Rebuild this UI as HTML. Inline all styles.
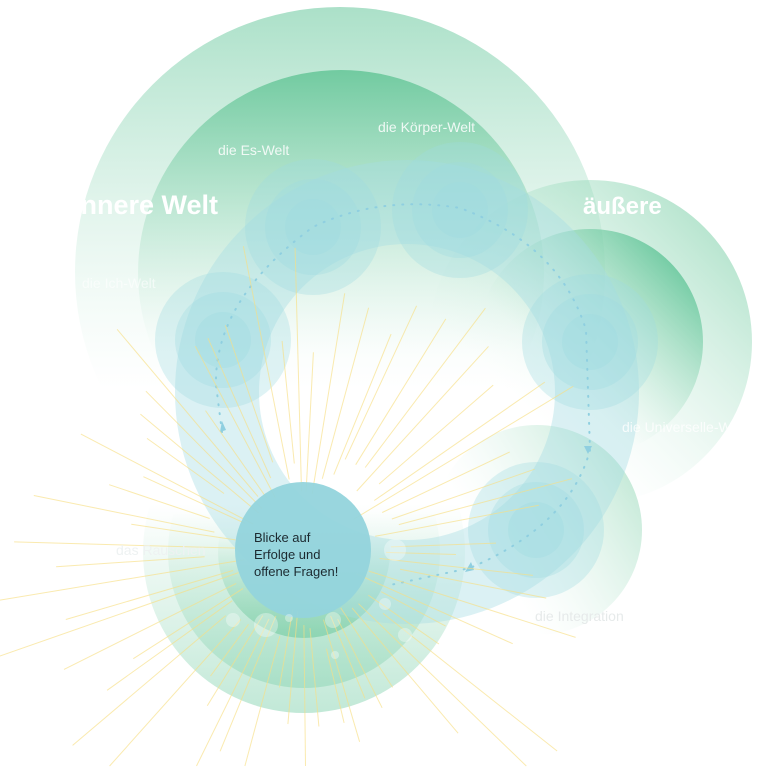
<!DOCTYPE html>
<html><head><meta charset="utf-8"><style>
html,body{margin:0;padding:0;background:#fff;width:768px;height:768px;overflow:hidden}
svg{display:block}
text{font-family:"Liberation Sans",sans-serif}
</style></head><body>
<svg id="s" width="768" height="768" viewBox="0 0 768 768" xmlns="http://www.w3.org/2000/svg">
<defs>
<linearGradient id="gTop" x1="0" y1="0" x2="0" y2="1">
<stop offset="0" stop-color="#8fd6b6" stop-opacity="0.75"/>
<stop offset="0.72" stop-color="#c8ecdc" stop-opacity="0"/>
</linearGradient>
<linearGradient id="gTop2" x1="0" y1="0" x2="0" y2="1">
<stop offset="0" stop-color="#5ec393" stop-opacity="0.8"/>
<stop offset="0.7" stop-color="#bfe8d4" stop-opacity="0"/>
</linearGradient>
<linearGradient id="gTR" x1="1" y1="0" x2="0" y2="1">
<stop offset="0" stop-color="#6cc99c" stop-opacity="0.7"/>
<stop offset="0.7" stop-color="#cdeee0" stop-opacity="0"/>
</linearGradient>
<linearGradient id="gTR2" x1="1" y1="0.1" x2="0.1" y2="1">
<stop offset="0" stop-color="#3fb882" stop-opacity="0.85"/>
<stop offset="0.65" stop-color="#bfe8d4" stop-opacity="0"/>
</linearGradient>
<linearGradient id="gBot" x1="0" y1="0" x2="0" y2="1">
<stop offset="0.35" stop-color="#8fd6b6" stop-opacity="0"/>
<stop offset="1" stop-color="#8fd6b6" stop-opacity="0.55"/>
</linearGradient>
<linearGradient id="gBot2" x1="0" y1="0" x2="0" y2="1">
<stop offset="0.4" stop-color="#6fc99e" stop-opacity="0"/>
<stop offset="1" stop-color="#6fc99e" stop-opacity="0.6"/>
</linearGradient>
<linearGradient id="gInt" x1="1" y1="0" x2="0" y2="0.6">
<stop offset="0" stop-color="#7ecfa7" stop-opacity="0.6"/>
<stop offset="0.8" stop-color="#cdeee0" stop-opacity="0"/>
</linearGradient>
</defs>
<circle cx="340" cy="272" r="265" fill="url(#gTop)"/>
<circle cx="341" cy="273" r="203" fill="url(#gTop2)"/>
<circle cx="590" cy="342" r="162" fill="url(#gTR)"/>
<circle cx="590" cy="342" r="113" fill="url(#gTR2)"/>
<circle cx="537" cy="530" r="105" fill="url(#gInt)"/>
<circle cx="304" cy="552" r="161" fill="url(#gBot)"/>
<circle cx="304" cy="552" r="136" fill="url(#gBot)"/>
<circle cx="304" cy="552" r="86" fill="url(#gBot2)"/>
<circle cx="407" cy="392" r="190" fill="none" stroke="#a6dbe3" stroke-opacity="0.4" stroke-width="84"/>
<g id="nodes"></g>
<path d="M222 432 L216 385 Q214 300 313 227 Q380 195 460 208 Q560 245 586 330 L590 450 Q570 525 470 568 L390 585" fill="none" stroke="#8fcfe0" stroke-width="2" stroke-dasharray="1 8" stroke-linecap="round"/>
<path d="M220 432 l6 -2 l-4 -9z" fill="#8fcfe0"/>
<path d="M584 446 l8 0 l-4 8z" fill="#8fcfe0"/>
<path d="M465 572 l9 -2 l-3 -8z" fill="#8fcfe0"/>
<g id="rays" stroke="#f7df84" stroke-width="1" stroke-opacity="0.65"></g>
<circle cx="303" cy="550" r="68" fill="#93d4dc" opacity="0.95"/>
<g fill="#fff" opacity="0.35">
<circle cx="395" cy="550" r="11"/><circle cx="385" cy="604" r="6"/><circle cx="333" cy="620" r="8"/><circle cx="266" cy="625" r="12"/><circle cx="233" cy="620" r="7"/><circle cx="405" cy="635" r="7"/><circle cx="335" cy="655" r="4"/><circle cx="289" cy="618" r="4"/>
</g>
<text x="254" y="542" font-size="13" fill="#1c2a30">Blicke auf</text>
<text x="254" y="559" font-size="13" fill="#1c2a30">Erfolge und</text>
<text x="254" y="576" font-size="13" fill="#1c2a30">offene Fragen!</text>
<text x="218" y="214" font-size="27" font-weight="bold" fill="#fff" text-anchor="end">Innere Welt</text>
<text x="583" y="214" font-size="24" font-weight="bold" fill="#fff">äußere<tspan fill-opacity="0"> Welt</tspan></text>
<text x="378" y="132" font-size="14" fill="#fff" opacity="0.85">die Körper-Welt</text>
<text x="218" y="155" font-size="14" fill="#fff" opacity="0.85">die Es-Welt</text>
<text x="82" y="288" font-size="14" fill="#fff" opacity="0.6">die Ich-Welt</text>
<text x="622" y="432" font-size="14" fill="#fff" opacity="0.8">die Universelle-Welt</text>
<text x="116" y="555" font-size="14" fill="#eef2f2">das Rauschen</text>
<text x="535" y="621" font-size="14" fill="#e6eaea">die Integration</text>
</svg>
<script>
var ns="http://www.w3.org/2000/svg";
var nodes=[[313,227],[460,210],[223,340],[590,342],[536,530]];
var g=document.getElementById('nodes');
nodes.forEach(function(n){[68,48,28].forEach(function(r){var c=document.createElementNS(ns,'circle');c.setAttribute('cx',n[0]);c.setAttribute('cy',n[1]);c.setAttribute('r',r);c.setAttribute('fill','#9fdbe0');c.setAttribute('fill-opacity','0.33');g.appendChild(c);});});
var rg=document.getElementById('rays');
var seed=7;function rnd(){seed=(seed*9301+49297)%233280;return seed/233280;}
var cx=303,cy=550;
for(var i=0;i<66;i++){
 var a=i/66*Math.PI*2+rnd()*0.06;
 var up=Math.sin(a)<0;
 var r1=55+rnd()*50;
 var r2=up?(170+rnd()*150):(130+rnd()*200);
 var x2=cx+Math.cos(a)*r2,y2=cy+Math.sin(a)*r2;
 if(y2>766){var t=(766-cy)/Math.sin(a);x2=cx+Math.cos(a)*t;y2=766;}
 var l=document.createElementNS(ns,'line');
 l.setAttribute('x1',(cx+Math.cos(a)*r1).toFixed(1));l.setAttribute('y1',(cy+Math.sin(a)*r1).toFixed(1));
 l.setAttribute('x2',x2.toFixed(1));l.setAttribute('y2',y2.toFixed(1));
 rg.appendChild(l);
}
</script>
</body></html>
